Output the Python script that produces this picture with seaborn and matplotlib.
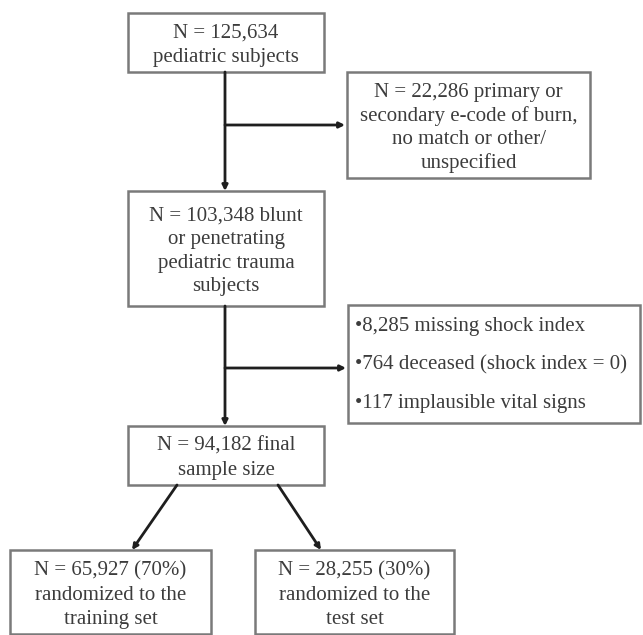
import matplotlib.pyplot as plt
import seaborn as sns
from matplotlib.patches import Rectangle

# flow counts
total_n = 125634
excluded_burn_n = 22286
blunt_pen_n = 103348
final_n = 94182
train_n, test_n = 65927, 28255
train_pct, test_pct = 70, 30
excl_counts = [8285, 764, 117]
excl_reasons = ["missing shock index", "deceased (shock index = 0)", "implausible vital signs"]

sns.set_style("white")
plt.rcParams['font.family'] = ['Liberation Serif', 'DejaVu Serif']

fig = plt.figure(figsize=(6.43, 6.35), dpi=100)
ax = fig.add_axes([0, 0, 1, 1])
ax.set_xlim(0, 643)
ax.set_ylim(635, 0)
ax.axis("off")

txt_col = "#3c3c3c"
box_col = "#7a7a7a"
line_col = "#1e1e1e"
fs = 15


def box(x0, y0, x1, y1, text, ls=1.38):
    ax.add_patch(Rectangle((x0, y0), x1 - x0, y1 - y0, fill=False,
                           edgecolor=box_col, linewidth=1.8))
    ax.text((x0 + x1) / 2, (y0 + y1) / 2 + 3, text, ha="center", va="center",
            fontsize=fs, color=txt_col, linespacing=ls)


def arrow(x0, y0, x1, y1):
    ax.annotate("", xy=(x1, y1), xytext=(x0, y0),
                arrowprops=dict(arrowstyle="-|>", color=line_col, lw=2,
                                mutation_scale=8, shrinkA=0, shrinkB=0))


box(128, 13, 324, 72, f"N = {total_n:,}\npediatric subjects")
box(347, 72, 590, 178, f"N = {excluded_burn_n:,} primary or\nsecondary e-code of burn,\n"
    "no match or other/\nunspecified", ls=1.3)
box(128, 191, 324, 306, f"N = {blunt_pen_n:,} blunt\nor penetrating\npediatric trauma\nsubjects", ls=1.32)

excl_text = "\n".join(f"•{c:,} {r}" for c, r in zip(excl_counts, excl_reasons))
ax.add_patch(Rectangle((348, 305), 640 - 348, 423 - 305, fill=False,
                       edgecolor=box_col, linewidth=1.8))
ax.text(355, 365, excl_text, ha="left", va="center", fontsize=fs,
        color=txt_col, linespacing=2.35)

box(128, 426, 324, 485, f"N = {final_n:,} final\nsample size")
box(10, 550, 211, 634, f"N = {train_n:,} ({train_pct}%)\nrandomized to the\ntraining set")
box(255, 550, 454, 634, f"N = {test_n:,} ({test_pct}%)\nrandomized to the\ntest set")

# main trunk with side branches
arrow(225, 72, 225, 191)
arrow(225, 125, 345, 125)
arrow(225, 306, 225, 426)
arrow(225, 368, 346, 368)
arrow(177, 485, 132, 550)
arrow(278, 485, 321, 550)

fig.savefig("out.png", dpi=100)
